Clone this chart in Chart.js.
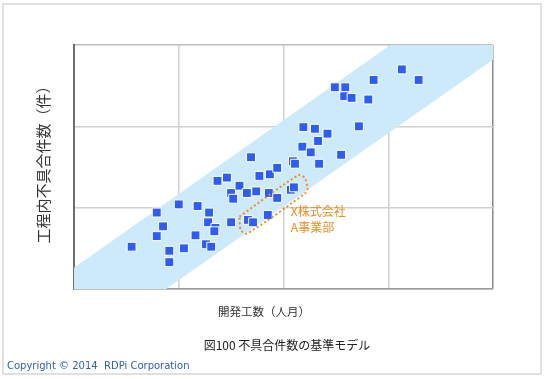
<!DOCTYPE html>
<html lang="ja">
<head>
  <meta charset="UTF-8">
  <title>図100 不具合件数の基準モデル</title>
  <script src="https://cdn.jsdelivr.net/npm/chart.js@4.4.1/dist/chart.umd.min.js"></script>
  <style>
    html, body { margin: 0; padding: 0; background: #fff; }
  </style>
</head>
<body>
  <canvas id="chart" width="545" height="379"></canvas>
  <script>

// 開発工数 (x) と 工程内不具合件数 (y) の実績
const effortX = [0.55, 0.79, 0.85, 0.79, 0.91, 0.91, 1.00, 1.05, 1.18, 1.16,
  1.29, 1.28, 1.35, 1.34, 1.26, 1.31, 1.37, 1.46, 1.50, 1.52,
  1.58, 1.65, 1.69, 1.74, 1.77, 1.50, 1.66, 1.71, 1.85, 1.87,
  1.94, 1.86, 1.94, 2.09, 2.11, 2.07, 2.10, 2.19, 2.18, 2.26,
  2.30, 2.42, 2.72, 2.33, 2.55, 2.34, 3.13, 3.29, 2.86, 2.49,
  2.59, 2.58, 2.65, 2.81];
const defectsY = [0.52, 0.94, 0.77, 0.65, 0.47, 0.33, 1.04, 0.50, 1.02, 0.66,
  0.94, 0.82, 0.75, 0.71, 0.55, 0.52, 1.33, 1.37, 1.18, 1.11,
  1.27, 1.18, 1.62, 1.20, 1.39, 0.82, 0.85, 0.82, 0.91, 1.41,
  1.49, 1.18, 1.12, 1.57, 1.54, 1.22, 1.25, 1.99, 1.75, 1.68,
  1.97, 1.91, 2.00, 1.82, 1.65, 1.54, 2.70, 2.57, 2.57, 2.48,
  2.48, 2.37, 2.35, 2.33];

// 基準帯 (polygon)
const bandX = [0, 3.02, 4, 4, 0.88, 0, 0];
const bandY = [0.26, 3, 3, 2.82, 0, 0, 0.26];

// X株式会社 A事業部 を囲む点線
const groupX = [1.58, 2.14, 2.20, 2.23, 2.21, 1.65, 1.59, 1.58];
const groupY = [0.89, 1.40, 1.37, 1.24, 1.18, 0.68, 0.73, 0.89];

const xTitle = '開発工数（人月）';
const yTitle = '工程内不具合件数（件）';
const caption = '図100 不具合件数の基準モデル';
const groupLabel = ['X株式会社', 'A事業部'];
const copyright = 'Copyright © 2014  RDPi Corporation';

const jp = "'Noto Sans CJK JP', 'Noto Sans', sans-serif";

function toXY(xs, ys) {
  return xs.map((x, i) => ({ x: x, y: ys[i] }));
}

const textPlugin = {
  id: 'texts',
  afterDraw(chart) {
    const ctx = chart.ctx;
    const sx = chart.scales.x;
    const sy = chart.scales.y;
    ctx.save();

    // frame
    ctx.strokeStyle = '#e0e0e0';
    ctx.lineWidth = 2;
    ctx.strokeRect(3, 4, 538, 370);

    ctx.fillStyle = '#333';
    ctx.textAlign = 'center';
    ctx.textBaseline = 'middle';

    ctx.font = '11.5px ' + jp;
    ctx.fillText(xTitle, 264, 312);

    ctx.save();
    ctx.translate(43, 161);
    ctx.rotate(-Math.PI / 2);
    ctx.font = '15px ' + jp;
    ctx.fillText(yTitle, 0, 0);
    ctx.restore();

    ctx.fillStyle = '#222';
    ctx.font = '12px ' + jp;
    ctx.fillText(caption, 287, 345);

    ctx.textAlign = 'left';
    ctx.fillStyle = '#2e60b8';
    ctx.font = "10px 'DejaVu Sans', sans-serif";
    ctx.fillText(copyright, 7, 366);

    ctx.fillStyle = '#ef8c1f';
    ctx.font = '12px ' + jp;
    ctx.fillText(groupLabel[0], sx.getPixelForValue(2.07), sy.getPixelForValue(0.95));
    ctx.fillText(groupLabel[1], sx.getPixelForValue(2.07), sy.getPixelForValue(0.76));
    ctx.restore();
  }
};

const ctx = document.getElementById('chart').getContext('2d');
const myChart = new Chart(ctx, {
  type: 'scatter',
  data: {
    datasets: [{
      label: '基準帯',
      data: toXY(bandX, bandY),
      showLine: true,
      fill: 'shape',
      backgroundColor: '#cdeafb',
      borderWidth: 0,
      pointRadius: 0,
      order: 3
    }, {
      label: '実績',
      data: toXY(effortX, defectsY),
      pointStyle: 'rect',
      pointRadius: 6.3,
      backgroundColor: '#2d5cf6',
      borderColor: '#ffffff',
      borderWidth: 1,
      order: 2
    }, {
      label: 'X株式会社 A事業部',
      data: toXY(groupX, groupY),
      showLine: true,
      fill: false,
      tension: 0.25,
      borderColor: '#ef8c1f',
      borderWidth: 2,
      borderDash: [2, 2.5],
      pointRadius: 0,
      order: 1
    }]
  },
  options: {
    responsive: false,
    animation: false,
    layout: { padding: { left: 74, top: 45, right: 52, bottom: 90 } },
    plugins: {
      legend: { display: false },
      tooltip: { enabled: false }
    },
    scales: {
      x: {
        min: 0,
        max: 4,
        ticks: { display: false, stepSize: 1 },
        grid: {
          drawTicks: false,
          lineWidth: 1.5,
          color: c => c.tick && c.tick.value === 4 ? '#8a8a8a' : '#d0d0d0'
        },
        border: { color: '#9a9a9a', width: 1.5 }
      },
      y: {
        min: 0,
        max: 3,
        ticks: { display: false, stepSize: 1 },
        grid: {
          drawTicks: false,
          lineWidth: 1.5,
          color: c => c.tick && c.tick.value === 3 ? '#bdbdbd' : '#d0d0d0'
        },
        border: { color: '#6e6e6e', width: 2 }
      }
    }
  },
  plugins: [textPlugin]
});
  </script>
</body>
</html>
